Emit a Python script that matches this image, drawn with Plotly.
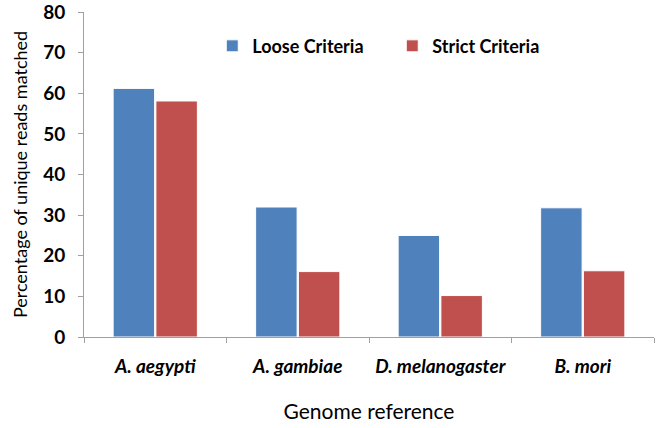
import plotly.graph_objects as go

categories = ["<i>A. aegypti</i>", "<i>A. gambiae</i>", "<i>D. melanogaster</i>", "<i>B. mori</i>"]
loose = [61.2, 32.0, 25.0, 31.8]
strict = [58.1, 16.1, 10.2, 16.3]
y_ticks = [0, 10, 20, 30, 40, 50, 60, 70, 80]

fig = go.Figure()
fig.add_trace(go.Bar(x=categories, y=loose, name="Loose Criteria",
                     marker=dict(color="#4F81BD", line=dict(color="white", width=1))))
fig.add_trace(go.Bar(x=categories, y=strict, name="Strict Criteria",
                     marker=dict(color="#C0504D", line=dict(color="white", width=1))))

font_family = "Lato, Open Sans, sans-serif"
fig.update_layout(
    width=669, height=428,
    margin=dict(l=84, r=15, t=12, b=91),
    plot_bgcolor="white", paper_bgcolor="white",
    barmode="group", bargap=0.4, bargroupgap=0.03,
    font=dict(family=font_family, color="black"),
    legend=dict(orientation="h", x=0.225, y=0.895, xanchor="left", yanchor="middle",
                font=dict(size=18, family=font_family, color="black", weight="bold"),
                entrywidth=135, itemwidth=30, bgcolor="rgba(0,0,0,0)"),
    xaxis=dict(
        showline=True, linecolor="#A0A0A0", linewidth=1,
        ticks="outside", tickson="boundaries", ticklen=5, tickcolor="#A0A0A0",
        tickfont=dict(size=19, family=font_family, weight="bold"),
        ticklabelstandoff=12,
        title=dict(text="Genome reference", font=dict(size=21, family=font_family), standoff=28),
        showgrid=False, automargin=False,
    ),
    yaxis=dict(
        range=[0, 80], tickvals=y_ticks,
        showline=True, linecolor="#A0A0A0", linewidth=1,
        ticks="outside", ticklen=5, tickcolor="#A0A0A0",
        tickfont=dict(size=19, family=font_family, weight="bold"),
        ticklabelstandoff=9, ticklabeloverflow="allow",
        title=dict(text="Percentage of unique reads matched", font=dict(size=18, family=font_family), standoff=10),
        showgrid=False, zeroline=False, automargin=False,
    ),
)
fig.write_html("out.html", config={"displayModeBar": False},
               post_script="document.body.style.margin='0px';")
